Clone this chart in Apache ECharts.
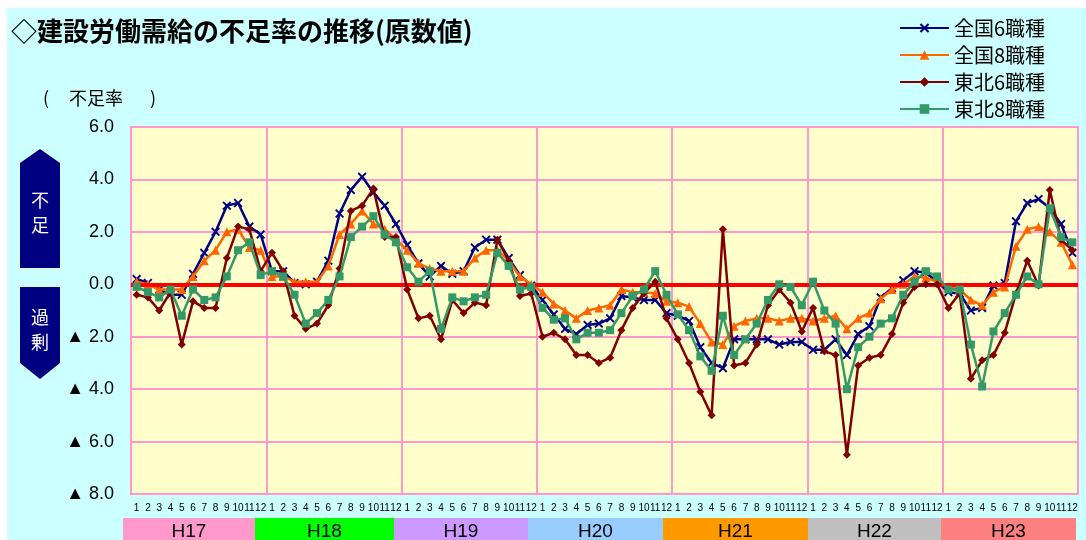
<!DOCTYPE html>
<html><head><meta charset="utf-8">
<script src="https://cdn.jsdelivr.net/npm/echarts@6.0.0/dist/echarts.min.js"></script>
<style>html,body{margin:0;padding:0;background:#fff}#c{width:1086px;height:540px}</style>
</head><body><div id="c"></div>
<script>
// ---- data ----
const years = ['H17','H18','H19','H20','H21','H22','H23'];
const months = ['1','2','3','4','5','6','7','8','9','10','11','12'];
const seriesNames = ['全国6職種','全国8職種','東北6職種','東北8職種'];
const yTicks = [-8,-6,-4,-2,0,2,4,6];
const zenkoku6 = [
0.2,0.05,-0.2,-0.4,-0.4,0.4,1.2,2.0,3.0,3.1,2.2,1.9,
0.5,0.5,0.05,0.0,0.1,0.9,2.7,3.6,4.1,3.5,3.0,2.3,
1.5,0.8,0.3,0.7,0.4,0.5,1.4,1.7,1.7,1.0,0.35,-0.05,
-0.6,-1.15,-1.7,-1.9,-1.55,-1.5,-1.3,-0.45,-0.5,-0.6,-0.6,-1.1,
-1.2,-1.4,-2.4,-3.0,-3.2,-2.1,-2.1,-2.1,-2.1,-2.3,-2.2,-2.2,
-2.5,-2.5,-2.1,-2.7,-1.9,-1.6,-0.5,-0.15,0.15,0.5,0.45,0.1,
-0.3,-0.35,-1.0,-0.9,-0.05,0.05,2.4,3.1,3.25,2.9,2.3,1.2];
const zenkoku8 = [
0.1,0.0,-0.2,-0.2,-0.2,0.3,0.9,1.3,2.0,2.1,1.4,1.3,
0.3,0.3,0.1,0.1,0.1,0.7,1.9,2.3,2.8,2.3,2.1,1.7,
1.3,0.8,0.6,0.5,0.5,0.5,1.0,1.3,1.3,0.9,0.3,0.0,
-0.3,-0.75,-1.0,-1.3,-1.0,-0.9,-0.8,-0.2,-0.3,-0.3,-0.35,-0.65,
-0.7,-0.85,-1.5,-2.2,-2.3,-1.6,-1.4,-1.3,-1.3,-1.4,-1.3,-1.3,
-1.4,-1.3,-1.2,-1.7,-1.3,-1.1,-0.55,-0.2,0.0,0.3,0.25,0.1,
-0.1,-0.2,-0.6,-0.8,-0.3,-0.1,1.45,2.1,2.2,2.0,1.6,0.75];
const tohoku6 = [
-0.4,-0.5,-1.0,-0.3,-2.3,-0.65,-0.9,-0.9,1.0,2.2,2.1,0.5,
1.2,0.5,-1.2,-1.7,-1.5,-0.8,0.6,2.8,3.0,3.65,1.8,1.8,
-0.2,-1.3,-1.2,-2.1,-0.6,-1.1,-0.7,-0.8,1.7,0.9,-0.45,-0.35,
-2.0,-1.85,-2.1,-2.7,-2.7,-3.0,-2.8,-1.75,-0.9,-0.35,0.1,-1.3,
-2.1,-3.0,-4.1,-5.0,2.1,-3.1,-3.0,-2.3,-0.8,-0.2,-0.7,-1.8,
-0.9,-2.55,-2.7,-6.5,-3.1,-2.8,-2.7,-1.9,-0.7,-0.1,0.0,0.0,
-0.9,-0.35,-3.6,-2.9,-2.7,-1.85,-0.35,0.9,-0.05,3.6,1.7,1.3];
const tohoku8 = [
-0.1,-0.3,-0.5,-0.2,-1.2,-0.2,-0.6,-0.5,0.3,1.3,1.6,0.35,
0.5,0.3,-0.4,-1.5,-1.1,-0.6,0.3,1.8,2.2,2.6,1.9,1.6,
0.65,0.1,0.5,-1.7,-0.5,-0.65,-0.5,-0.4,1.2,0.7,-0.2,-0.1,
-0.9,-1.35,-1.3,-2.1,-1.85,-1.85,-1.75,-1.1,-0.45,-0.2,0.5,-0.4,
-1.15,-1.75,-2.75,-3.3,-1.2,-2.7,-2.1,-1.5,-0.6,0.0,-0.1,-0.8,
0.1,-1.0,-1.5,-4.0,-2.4,-2.0,-1.5,-1.3,-0.4,0.1,0.5,0.3,
-0.2,-0.2,-2.3,-3.9,-1.8,-1.1,-0.4,0.3,0.0,2.9,1.8,1.6];

// ---- styles / layout ----
const yearColors = ['#ff99cc','#00ff00','#cc99ff','#99ccff','#ff9900','#c0c0c0','#ff8080'];
const bandEdges = [123,255,394,528,663,808,941,1076];
const lineColors = ['#000080','#ff6600','#800000','#339966'];
const xPath = 'path://M0,1.5 L1.5,0 L5,3.5 L8.5,0 L10,1.5 L6.5,5 L10,8.5 L8.5,10 L5,6.5 L1.5,10 L0,8.5 L3.5,5 Z';
const symbols = [xPath,'triangle','diamond','rect'];
const symbolSizes = [9,9,8,8];
const seriesData = [zenkoku6, zenkoku8, tohoku6, tohoku8];
const numFont = "'Liberation Sans', Arial, sans-serif";
const jpFont = "'Noto Sans CJK JP', sans-serif";

const categories = [];
years.forEach(y => months.forEach(m => categories.push(y + '-' + m)));

const chart = echarts.init(document.getElementById('c'), null, {renderer: 'canvas'});

const graphics = [
  {type:'rect', left:7, top:8, shape:{width:1079, height:532}, style:{fill:'#ccffff'}, z:-10, silent:true},
  {type:'text', left:11, top:18, style:{text:'◇建設労働需給の不足率の推移(原数値)', font:"bold 26px 'Noto Sans CJK JP', sans-serif", fill:'#000'}},
  {type:'text', left:43, top:89, style:{text:'(', font:"18px 'Noto Sans CJK JP', sans-serif", fill:'#000'}},
  {type:'text', left:69, top:89, style:{text:'不足率', font:"18px 'Noto Sans CJK JP', sans-serif", fill:'#000'}},
  {type:'text', left:150, top:89, style:{text:')', font:"18px 'Noto Sans CJK JP', sans-serif", fill:'#000'}},
  {type:'polygon', shape:{points:[[20,163],[40,149],[60,163],[60,268],[20,268]]}, style:{fill:'#000080'}},
  {type:'text', x:40, y:200, style:{text:'不', font:"18px 'Noto Sans CJK JP', sans-serif", fill:'#fff', align:'center', verticalAlign:'middle'}},
  {type:'text', x:40, y:225, style:{text:'足', font:"18px 'Noto Sans CJK JP', sans-serif", fill:'#fff', align:'center', verticalAlign:'middle'}},
  {type:'polygon', shape:{points:[[20,287],[60,287],[60,363],[40,379],[20,363]]}, style:{fill:'#000080'}},
  {type:'text', x:40, y:317, style:{text:'過', font:"18px 'Noto Sans CJK JP', sans-serif", fill:'#fff', align:'center', verticalAlign:'middle'}},
  {type:'text', x:40, y:342, style:{text:'剰', font:"18px 'Noto Sans CJK JP', sans-serif", fill:'#fff', align:'center', verticalAlign:'middle'}}
];
years.forEach((y, i) => {
  const x0 = bandEdges[i], x1 = bandEdges[i+1];
  graphics.push({type:'rect', shape:{x:x0, y:518, width:x1-x0, height:22}, style:{fill:yearColors[i]}, silent:true});
  graphics.push({type:'text', x:(x0+x1)/2, y:532, style:{text:y, font:"19px 'Liberation Sans', Arial, sans-serif", fill:'#000', align:'center', verticalAlign:'middle'}});
});

const series = seriesNames.map((name, i) => ({
  name, type:'line', data: seriesData[i],
  symbol: symbols[i], symbolSize: symbolSizes[i],
  lineStyle:{color: lineColors[i], width: 2.5},
  itemStyle:{color: lineColors[i], borderWidth:0},
  z: 3 + i, animation:false, emphasis:{disabled:true}
}));
series.unshift({
  name:'zero', type:'line', data:[], z:2, silent:true, animation:false,
  markLine:{silent:true, symbol:['none','none'], label:{show:false}, animation:false,
    lineStyle:{color:'#ff0000', width:4, type:'solid'}, data:[{yAxis:0}]}
});

chart.setOption({
  backgroundColor:'#ffffff',
  animation:false,
  textStyle:{fontFamily:numFont},
  grid:{left:131, right:8, top:127, bottom:46, show:true, backgroundColor:'#ffffcc', borderColor:'#ff99cc', borderWidth:2},
  legend:{
    data: seriesNames, orient:'vertical', left:894, top:13,
    itemWidth:49, itemHeight:12, itemGap:7,
    textStyle:{fontSize:20, fontFamily:jpFont, color:'#000', lineHeight:20, padding:[0,0,0,0]},
    selectedMode:false
  },
  xAxis:{
    type:'category', data:categories, boundaryGap:true,
    axisLine:{show:false}, axisTick:{show:false},
    axisLabel:{interval:0, margin:9, fontSize:10, color:'#000', fontFamily:numFont,
      formatter: v => v.split('-')[1]},
    splitLine:{show:true, interval:(idx) => idx % 12 === 0, lineStyle:{color:'#ff99cc', width:2}}
  },
  yAxis:{
    type:'value', min:yTicks[0], max:yTicks[yTicks.length-1], interval:2,
    axisLine:{show:false}, axisTick:{show:false},
    axisLabel:{margin:17, fontSize:18, color:'#000', fontFamily:numFont,
      formatter: v => v < 0 ? '▲ ' + (-v).toFixed(1) : v.toFixed(1)},
    splitLine:{show:true, lineStyle:{color:'#ff99cc', width:2}}
  },
  graphic: graphics,
  series
});
</script></body></html>
